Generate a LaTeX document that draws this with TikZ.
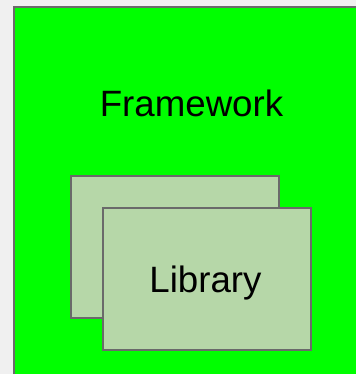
\documentclass[tikz,border=0pt]{standalone}
\usepackage{fontspec}
\setmainfont{Liberation Sans}
\definecolor{bggray}{HTML}{F0F0F0}
\definecolor{fwgreen}{HTML}{00FF00}
\definecolor{libgreen}{HTML}{B6D7A8}
\definecolor{edgegray}{HTML}{6A6A6A}
\tikzset{
  box/.style={draw=edgegray, line width=1.5pt},
  lbl/.style={font=\fontsize{27.5pt}{32pt}\selectfont, text=black, inner sep=0pt, anchor=base}
}
\begin{document}
\begin{tikzpicture}[x=0.75pt, y=-0.75pt]
\useasboundingbox (0,0) rectangle (356,374);
\fill[bggray] (0,0) rectangle (356,374);
\begin{scope}
\clip (0,0) rectangle (356,374);
\draw[box, fill=fwgreen] (14,7) rectangle (372,400);
\end{scope}
\node[lbl] (fw) at (191.5,117) {Framework};
\draw[box, fill=libgreen] (71,176) rectangle (279,318);
\draw[box, fill=libgreen] (103,208) rectangle (311,350);
\node[lbl] (lib) at (205.5,292) {Library};
\end{tikzpicture}
\end{document}
